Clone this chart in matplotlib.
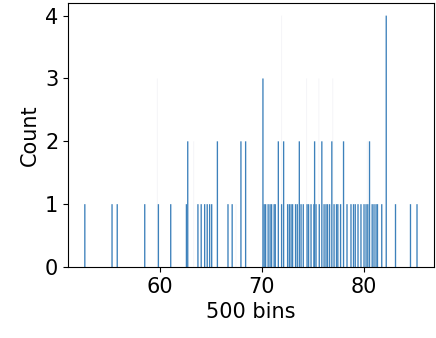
import numpy as np
import matplotlib
matplotlib.use("Agg")
import matplotlib.pyplot as plt

# bin centres (value) and counts
values = [52.65, 55.32, 55.83, 58.53, 59.87, 61.08, 62.62, 62.75, 63.75, 64.07,
          64.41, 64.66, 64.90, 65.10, 65.66, 66.70, 67.11, 67.97, 68.43,
          70.13, 70.25, 70.39, 70.64, 70.83, 70.98, 71.23, 71.34, 71.64, 71.96,
          72.16, 72.55, 72.72, 72.89, 73.04, 73.33, 73.50, 73.70, 73.87, 74.09,
          74.46, 74.61, 74.85, 75.13, 75.20, 75.34, 75.66, 75.91, 76.13, 76.32,
          76.47, 76.67, 76.89, 77.11, 77.35, 77.48, 77.75, 78.04, 78.38, 78.77,
          79.02, 79.19, 79.46, 79.75, 80.05, 80.25, 80.42, 80.59, 80.85, 81.03,
          81.23, 81.37, 81.79, 82.23, 83.14, 84.61, 85.25]
counts = [1, 1, 1, 1, 1, 1, 1, 2, 1, 1,
          1, 1, 1, 1, 2, 1, 1, 2, 2,
          3, 1, 1, 1, 1, 1, 1, 1, 2, 1,
          2, 1, 1, 1, 1, 1, 1, 2, 1, 1,
          1, 1, 1, 1, 2, 1, 1, 2, 1, 1,
          1, 1, 2, 1, 1, 1, 1, 2, 1, 1,
          1, 1, 1, 1, 1, 1, 1, 2, 1, 1,
          1, 1, 1, 4, 1, 1, 1]

# bins that render almost invisibly (face hidden by white edges)
faint_values = [59.77, 63.33, 67.48, 71.96, 74.41, 75.62, 76.98, 80.37]
faint_counts = [3, 2, 1, 4, 3, 3, 3, 2]

n_bins = 500
bin_w = (max(values) - min(values)) / n_bins

fig = plt.figure(figsize=(4.36, 3.38), dpi=100)
ax = fig.add_axes([0.156, 0.21, 0.839, 0.781])

ax.bar(faint_values, faint_counts, width=bin_w * 1.5, color='#f5f5f8',
       linewidth=0, snap=False)
# drawn a bit wider than one bin so each bar shows as a thin line
ax.bar(values, counts, width=bin_w * 2.0, color='#3d81bb', linewidth=0,
       snap=False)

ax.set_xlim(51.0, 86.9)
ax.set_ylim(0, 4.2)
ax.set_xticks([60, 70, 80])
ax.set_yticks([0, 1, 2, 3, 4])
ax.tick_params(labelsize=15)
ax.set_xlabel('500 bins', fontsize=15)
ax.set_ylabel('Count', fontsize=15)

fig.savefig('out.png', dpi=100)
